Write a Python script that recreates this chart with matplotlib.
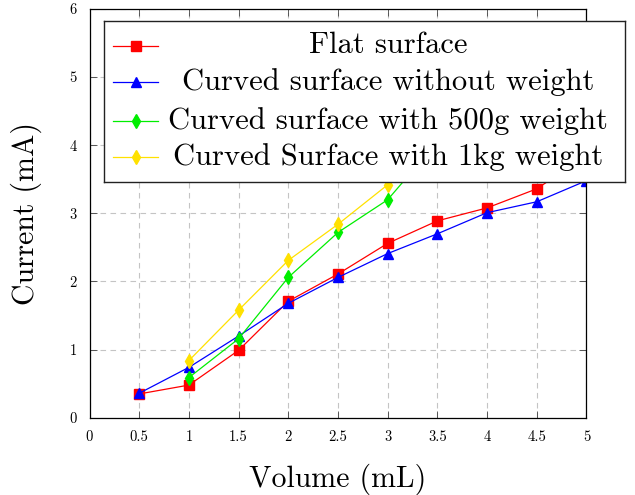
import matplotlib
matplotlib.use("Agg")
import matplotlib.pyplot as plt

plt.rcParams['font.family'] = ['cmr10', 'DejaVu Serif']
plt.rcParams['mathtext.fontset'] = 'cm'
plt.rcParams['axes.formatter.use_mathtext'] = True

# data
volume = [0.5, 1, 1.5, 2, 2.5, 3, 3.5, 4, 4.5, 5]
volume_weighted = [1, 1.5, 2, 2.5, 3, 3.5, 4, 4.5, 5]
flat = [0.35, 0.48, 0.99, 1.71, 2.11, 2.56, 2.89, 3.08, 3.36, 3.85]
curved_none = [0.36, 0.74, 1.20, 1.68, 2.06, 2.41, 2.70, 3.01, 3.17, 3.48]
curved_500g = [0.59, 1.16, 2.06, 2.72, 3.20, 4.05, 4.50, 4.90, 5.30]
curved_1kg = [0.84, 1.58, 2.31, 2.84, 3.42, 4.00, 4.50, 5.00, 5.50]

labels = ['Flat surface', 'Curved surface without weight',
          'Curved surface with 500g weight', 'Curved Surface with 1kg weight']
colors = ['#ff0000', '#0000ff', '#00ee00', '#ffe100']
markers = ['s', '^', 'd', 'd']
msizes = [7.5, 7.5, 7, 7]

xticks = [0, 0.5, 1, 1.5, 2, 2.5, 3, 3.5, 4, 4.5, 5]
xticklabels = ['0', '0.5', '1', '1.5', '2', '2.5', '3', '3.5', '4', '4.5', '5']
yticks = [0, 1, 2, 3, 4, 5, 6]
yticklabels = ['0', '1', '2', '3', '4', '5', '6']

fig = plt.figure(figsize=(6.35, 4.95), dpi=100)
ax = fig.add_axes([0.141, 0.156, 0.7826, 0.826])

xs = [volume, volume, volume_weighted, volume_weighted]
series = [flat, curved_none, curved_500g, curved_1kg]
for x, ys, c, m, s in zip(xs, series, colors, markers, msizes):
    ax.plot(x, ys, color=c, marker=m, markersize=s, linewidth=0.9)

ax.set_xlim(0, 5)
ax.set_ylim(0, 6)
ax.set_xticks(xticks, xticklabels, fontsize=10.5)
ax.set_yticks(yticks, yticklabels, fontsize=10.5)
ax.tick_params(direction='in', top=True, right=True, length=5, width=0.6,
               color='#444444', pad=9)
ax.grid(True, linestyle=(0, (5, 4)), color='#c4c4c4', linewidth=0.8)
for sp in ax.spines.values():
    sp.set_linewidth(0.9)

ax.set_xlabel('Volume (mL)', fontsize=21.5, labelpad=14)
ax.set_ylabel('Current (mA)', fontsize=21.5)
ax.yaxis.set_label_coords(-0.095, 0.5)

# legend box drawn by hand so the labels can be centred like pgfplots
lax = fig.add_axes([0.1638, 0.6323, 0.8205, 0.3259])
lax.set_xlim(0, 1)
lax.set_ylim(0, 1)
lax.set_xticks([])
lax.set_yticks([])
for sp in lax.spines.values():
    sp.set_linewidth(1.0)
    sp.set_color('#222222')
rows = [0.845, 0.618, 0.380, 0.153]
for lab, c, m, s, yr in zip(labels, colors, markers, msizes, rows):
    lax.plot([0.018, 0.104], [yr, yr], color=c, linewidth=0.9)
    lax.plot([0.061], [yr], color=c, marker=m, markersize=s)
    lax.text(0.545, yr, lab, ha='center', va='center', fontsize=22)

fig.savefig('out.png', dpi=100)
